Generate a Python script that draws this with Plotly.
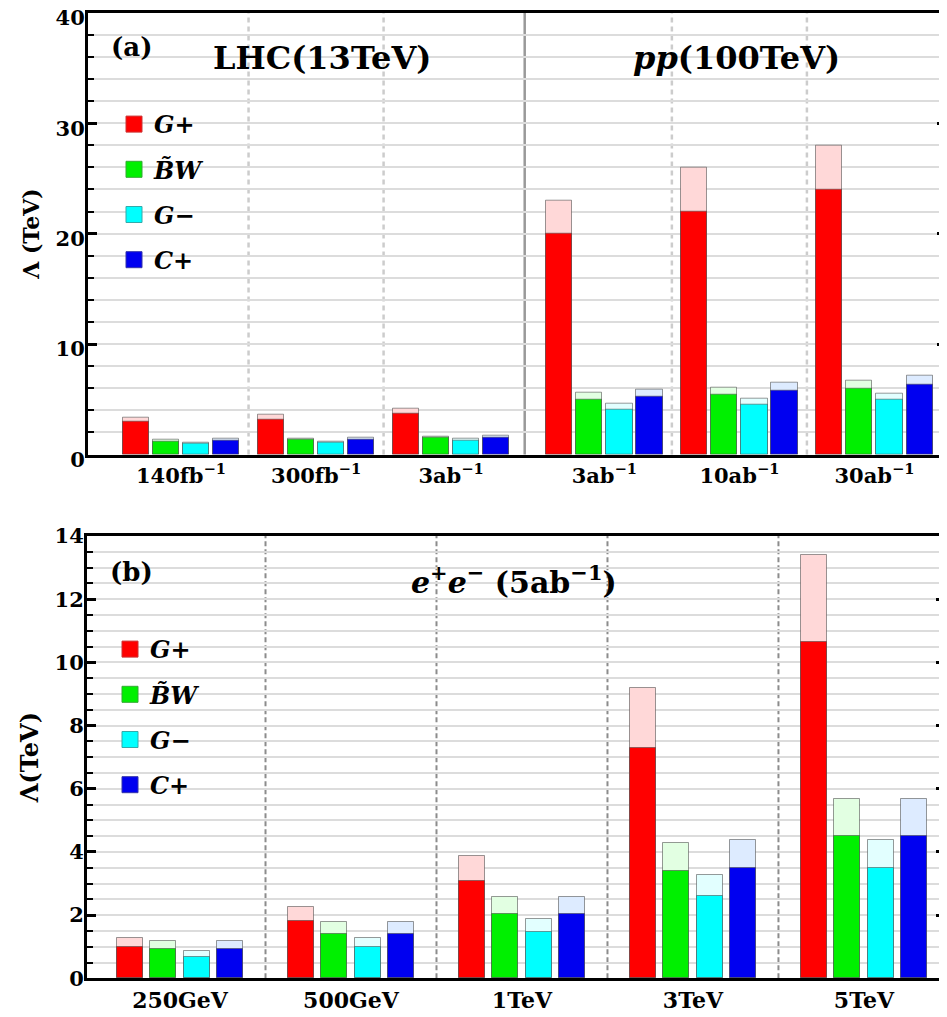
import plotly.graph_objects as go

# ---------------- data ----------------
series_names = ["<i>G</i>+", "<i>B\u0303W</i>", "<i>G</i>\u2212", "<i>C</i>+"]
dark_colors = ["#FF0000", "#00F000", "#00FFFF", "#0000F0"]
light_colors = ["#FFD8D8", "#E2FFE2", "#E2FFFF", "#DDEBFF"]
legend_edge = ["#cc3333", "#33aa33", "#33aaaa", "#3333aa"]

top_labels = ["140fb<sup>\u22121</sup>", "300fb<sup>\u22121</sup>", "3ab<sup>\u22121</sup>",
              "3ab<sup>\u22121</sup>", "10ab<sup>\u22121</sup>", "30ab<sup>\u22121</sup>"]
top_gplus_low = [3.0, 3.12, 3.73, 20.0, 22.0, 24.0]
top_gplus_high = [3.3, 3.58, 4.18, 23.0, 26.0, 28.0]
top_bw_low = [1.2, 1.31, 1.52, 5.0, 5.39, 5.96]
top_bw_high = [1.3, 1.4, 1.65, 5.6, 6.08, 6.68]
top_gminus_low = [0.95, 1.07, 1.25, 4.1, 4.55, 4.93]
top_gminus_high = [1.1, 1.19, 1.4, 4.57, 5.09, 5.48]
top_cplus_low = [1.25, 1.37, 1.52, 5.23, 5.78, 6.32]
top_cplus_high = [1.4, 1.49, 1.67, 5.9, 6.5, 7.1]

bot_labels = ["250GeV", "500GeV", "1TeV", "3TeV", "5TeV"]
bot_gplus_low = [1.0, 1.81, 3.07, 7.29, 10.64]
bot_gplus_high = [1.27, 2.27, 3.87, 9.19, 13.39]
bot_bw_low = [0.93, 1.4, 2.04, 3.4, 4.51]
bot_bw_high = [1.18, 1.77, 2.57, 4.28, 5.67]
bot_gminus_low = [0.69, 1.0, 1.48, 2.61, 3.48]
bot_gminus_high = [0.86, 1.27, 1.87, 3.27, 4.38]
bot_cplus_low = [0.93, 1.4, 2.04, 3.48, 4.51]
bot_cplus_high = [1.18, 1.77, 2.57, 4.38, 5.67]

# ---------------- layout constants ----------------
PAGE_OFF = 8                      # default page body margin
W, H = 947 - PAGE_OFF, 1017 - PAGE_OFF
FONT = "DejaVu Serif"
PP_GAP = 0.135                    # extra space between LHC and pp blocks
TOP_BAR_W, TOP_PITCH = 0.194, 0.223
BOT_BAR_W, BOT_PITCH = 0.152, 0.195


def fx(px):
    return (px - PAGE_OFF) / W


def fy(py):
    return 1 - (py - PAGE_OFF) / H


top_pos = [i + (PP_GAP if i >= 3 else 0) for i in range(len(top_labels))]
bot_pos = list(range(len(bot_labels)))

top_low = [top_gplus_low, top_bw_low, top_gminus_low, top_cplus_low]
top_high = [top_gplus_high, top_bw_high, top_gminus_high, top_cplus_high]
bot_low = [bot_gplus_low, bot_bw_low, bot_gminus_low, bot_cplus_low]
bot_high = [bot_gplus_high, bot_bw_high, bot_gminus_high, bot_cplus_high]

fig = go.Figure()
outline = dict(color="rgba(70,70,70,0.55)", width=1)


def add_panel(pos, lows, highs, bw, pitch, xa, ya, legend):
    for k in range(4):
        xs = [p + (k - 1.5) * pitch for p in pos]
        grp = legend + str(k)
        fig.add_trace(go.Bar(x=xs, y=highs[k], width=bw, marker=dict(color=light_colors[k], line=outline),
                             xaxis=xa, yaxis=ya, showlegend=False, legendgroup=grp,
                             name=series_names[k]))
        fig.add_trace(go.Bar(x=xs, y=lows[k], width=bw, marker=dict(color=dark_colors[k], line=outline),
                             xaxis=xa, yaxis=ya, showlegend=False, legendgroup=grp,
                             name=series_names[k]))
        # legend swatch (no data)
        fig.add_trace(go.Scatter(x=[None], y=[None], mode="markers", xaxis=xa, yaxis=ya,
                                 marker=dict(symbol="square", size=16, color=dark_colors[k],
                                             line=dict(color=legend_edge[k], width=1)),
                                 legend=legend, legendgroup=grp, name=series_names[k],
                                 showlegend=True))


add_panel(top_pos, top_low, top_high, TOP_BAR_W, TOP_PITCH, "x", "y", "legend")
add_panel(bot_pos, bot_low, bot_high, BOT_BAR_W, BOT_PITCH, "x2", "y2", "legend2")

bold = dict(family=FONT, color="black", weight=700)

xcommon = dict(showline=True, linewidth=3, linecolor="black", mirror=True, ticks="",
               showgrid=False, zeroline=False, automargin=False, ticklabeloverflow="allow")
ycommon = dict(showline=True, linewidth=3, linecolor="black", mirror="ticks", ticks="inside",
               ticklen=9, tickwidth=3, tickcolor="black", showgrid=True, gridcolor="#dcdcdc",
               gridwidth=1.5, zeroline=False, automargin=False, ticklabelstandoff=-4,
               ticklabeloverflow="allow")

fig.update_layout(
    width=W, height=H, margin=dict(l=0, r=0, t=0, b=0, autoexpand=False),
    paper_bgcolor="white", plot_bgcolor="white", barmode="overlay", bargap=0,
    xaxis=dict(domain=[fx(88), fx(946)], range=[-0.689, 5.665], anchor="y",
               tickvals=top_pos, ticktext=top_labels, tickfont=dict(size=21, **bold), **xcommon),
    yaxis=dict(domain=[fy(454.5), fy(12.7)], range=[0, 40], anchor="x", dtick=10,
               tickfont=dict(size=21, **bold), ticklabelshift=5,
               minor=dict(dtick=2, ticks="inside", ticklen=6, tickwidth=2, tickcolor="black",
                          showgrid=True, gridcolor="#dcdcdc", gridwidth=1.5),
               title=dict(text="\u039b (TeV)", font=dict(size=22, **bold), standoff=10), **ycommon),
    xaxis2=dict(domain=[fx(87), fx(945)], range=[-0.544, 4.474], anchor="y2",
                tickvals=bot_pos, ticktext=bot_labels, tickfont=dict(size=22, **bold), **xcommon),
    yaxis2=dict(domain=[fy(978.3), fy(536)], range=[0, 14], anchor="x2", dtick=2,
                tickfont=dict(size=21, **bold),
                minor=dict(dtick=0.5, ticks="inside", ticklen=6, tickwidth=2, tickcolor="black",
                           showgrid=True, gridcolor="#dcdcdc", gridwidth=1.5),
                title=dict(text="\u039b(TeV)", font=dict(size=24, **bold), standoff=10), **ycommon),
    legend=dict(x=fx(114), y=fy(102), xanchor="left", yanchor="top", tracegroupgap=11,
                bgcolor="rgba(0,0,0,0)", font=dict(size=24, **bold)),
    legend2=dict(x=fx(110), y=fy(627), xanchor="left", yanchor="top", tracegroupgap=11,
                 bgcolor="rgba(0,0,0,0)", font=dict(size=24, **bold)),
)

# separators between groups
shapes = []
for i in range(len(top_pos) - 1):
    mid = (top_pos[i] + top_pos[i + 1]) / 2
    if i == 2:
        shapes.append(dict(type="line", xref="x", yref="y domain", x0=2.545, x1=2.545, y0=0, y1=1,
                           line=dict(color="#999999", width=2.5), layer="below"))
    else:
        shapes.append(dict(type="line", xref="x", yref="y domain", x0=mid, x1=mid, y0=0, y1=1,
                           line=dict(color="#cccccc", width=2.5, dash="5px,4px"), layer="below"))
for i in range(len(bot_pos) - 1):
    mid = (bot_pos[i] + bot_pos[i + 1]) / 2
    shapes.append(dict(type="line", xref="x2", yref="y2 domain", x0=mid, x1=mid, y0=0, y1=1,
                       line=dict(color="#8c8c8c", width=2, dash="5px,3px"), layer="below"))
fig.update_layout(shapes=shapes)

ann = [
    dict(text="(a)", x=fx(131), y=fy(47), font=dict(size=26, **bold)),
    dict(text="LHC(13TeV)", x=fx(322), y=fy(58), font=dict(size=32, **bold)),
    dict(text="<i>pp</i>(100TeV)", x=fx(736), y=fy(58), font=dict(size=32, **bold)),
    dict(text="(b)", x=fx(131), y=fy(572), font=dict(size=26, **bold)),
    dict(text="<i>e</i><sup>+</sup><i>e</i><sup>\u2212</sup> (5ab<sup>\u22121</sup>)", x=fx(514),
         y=fy(580), font=dict(size=30, **bold)),
]
for a in ann:
    fig.add_annotation(xref="paper", yref="paper", showarrow=False, xanchor="center", yanchor="middle", **a)

fig.write_html("out.html")
